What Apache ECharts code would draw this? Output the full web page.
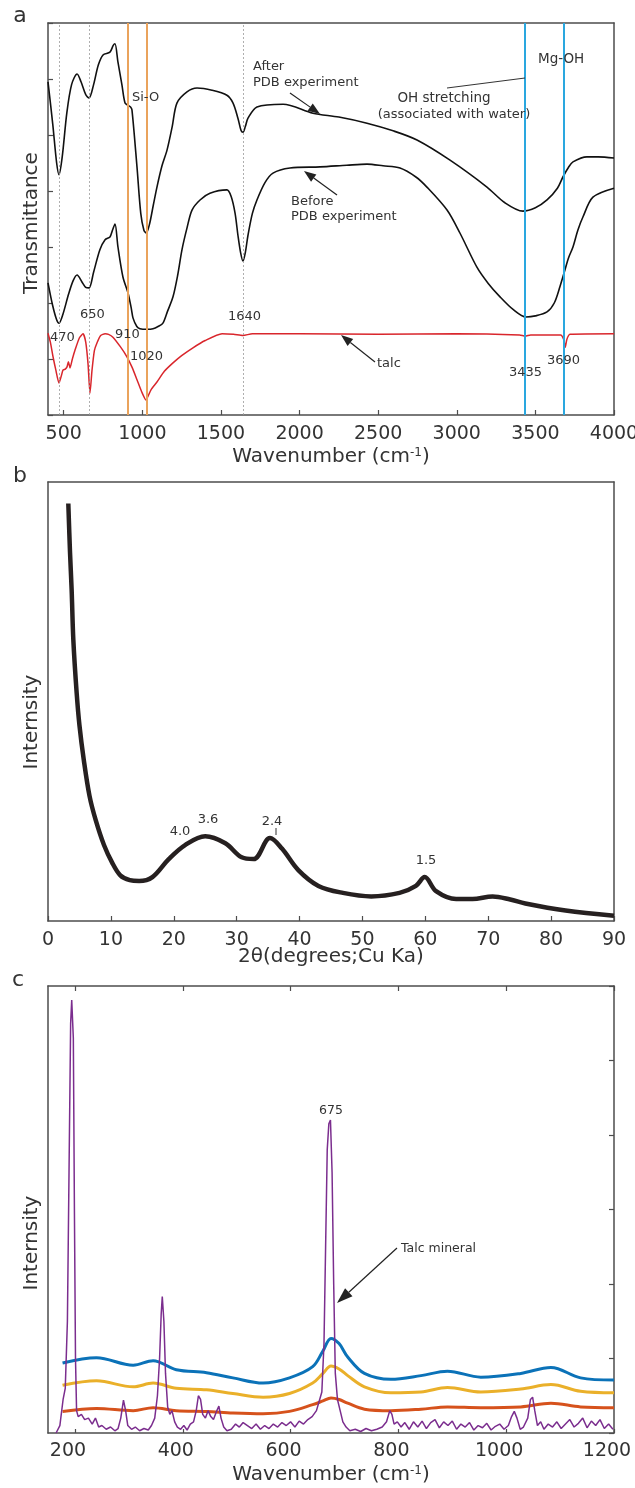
<!DOCTYPE html>
<html><head><meta charset="utf-8">
<script src="https://cdn.jsdelivr.net/npm/echarts@6/dist/echarts.min.js"></script>
<style>html,body{margin:0;padding:0;background:#fff;}#c{width:635px;height:1488px;}</style>
</head><body><div id="c"></div>
<script>
// ---------- Panel a: FTIR ----------
const ftirTicks = [500,1000,1500,2000,2500,3000,3500,4000];
const ftirAfter = [[400,5.95],[430,5.2],[455,4.5],[470,4.29],[490,4.6],[520,5.4],[550,5.9],[585,6.09],[610,5.95],[640,5.72],[661,5.66],[690,5.9],[720,6.25],[750,6.43],[794,6.48],[815,6.6],[826,6.63],[845,6.3],[870,5.9],[890,5.57],[910,5.53],[925,5.5],[934,5.45],[966,4.43],[990,3.6],[1010,3.3],[1025,3.25],[1045,3.4],[1070,3.75],[1093,4.07],[1125,4.45],[1157,4.73],[1190,5.15],[1220,5.57],[1284,5.77],[1348,5.84],[1443,5.80],[1538,5.71],[1577,5.57],[1608,5.30],[1628,5.08],[1640,5.05],[1655,5.15],[1672,5.30],[1729,5.50],[1895,5.55],[2085,5.39],[2250,5.32],[2429,5.21],[2600,5.07],[2747,4.91],[2957,4.55],[3192,4.07],[3306,3.79],[3421,3.64],[3500,3.7],[3574,3.84],[3640,4.05],[3675,4.25],[3710,4.42],[3739,4.52],[3828,4.61],[3900,4.61],[4000,4.59]];
const ftirBefore = [[400,2.36],[430,1.95],[455,1.7],[470,1.64],[495,1.8],[530,2.15],[560,2.4],[585,2.5],[615,2.38],[640,2.28],[661,2.27],[690,2.55],[730,2.95],[763,3.13],[794,3.18],[810,3.3],[826,3.41],[845,3.0],[877,2.46],[909,2.18],[930,1.9],[941,1.73],[965,1.58],[985,1.54],[1030,1.53],[1068,1.54],[1100,1.58],[1131,1.64],[1160,1.85],[1195,2.11],[1225,2.5],[1252,2.95],[1285,3.35],[1316,3.66],[1367,3.84],[1430,3.96],[1538,4.02],[1565,3.9],[1590,3.6],[1608,3.21],[1625,2.9],[1640,2.75],[1655,2.9],[1672,3.21],[1700,3.6],[1729,3.84],[1780,4.15],[1831,4.32],[1939,4.41],[2130,4.43],[2300,4.46],[2429,4.48],[2531,4.45],[2639,4.41],[2740,4.25],[2810,4.07],[2938,3.66],[3020,3.25],[3128,2.64],[3200,2.35],[3275,2.11],[3360,1.88],[3440,1.75],[3500,1.77],[3574,1.84],[3620,2.0],[3656,2.29],[3688,2.59],[3710,2.8],[3739,3.0],[3770,3.3],[3803,3.54],[3866,3.89],[4000,4.05]];
const ftirTalc = [[400,1.46],[415,1.3],[432,1.04],[450,0.8],[470,0.57],[485,0.7],[495,0.8],[510,0.82],[521,0.86],[530,0.95],[540,0.84],[555,1.0],[572,1.16],[600,1.38],[623,1.45],[640,1.3],[655,0.9],[667,0.39],[680,0.8],[695,1.15],[712,1.29],[735,1.42],[763,1.45],[785,1.44],[813,1.39],[860,1.22],[902,1.04],[935,0.85],[966,0.63],[995,0.42],[1023,0.27],[1055,0.45],[1093,0.59],[1140,0.78],[1195,0.93],[1250,1.06],[1322,1.2],[1400,1.33],[1507,1.45],[1580,1.44],[1640,1.42],[1700,1.45],[2000,1.45],[2500,1.44],[3000,1.45],[3400,1.43],[3435,1.41],[3470,1.43],[3660,1.43],[3680,1.35],[3690,1.21],[3700,1.35],[3720,1.44],[4000,1.45]];
const ftirDashed = [470, 660, 1640];
const ftirSiO = [910, 1025];
const ftirMgOH = [3435, 3680];

// ---------- Panel b: XRD ----------
const xrdTicks = [0,10,20,30,40,50,60,70,80,90];
const xrd = [[3.23,95.1],[3.5,84],[3.76,75.4],[4.03,64.0],[4.56,51.9],[5.0,44.6],[5.7,36.6],[6.6,28.5],[7.6,22.9],[8.9,17.3],[10.2,13.3],[11.5,10.4],[13.0,9.3],[14.5,9.1],[16.6,10.0],[19.2,14.1],[21.8,17.3],[25.0,19.3],[28.2,17.7],[30.8,14.5],[32.7,14.1],[35.3,18.9],[37.2,16.5],[39.8,11.6],[43.0,8.0],[46.9,6.4],[51.4,5.6],[55.9,6.4],[58.5,8.0],[59.9,10.0],[61.7,6.8],[64.9,5.0],[67.5,5.0],[70.7,5.6],[73.5,4.9],[75.9,4.0],[82.3,2.4],[90,1.2]];

// ---------- Panel c: Raman ----------
const ramanTicks = [200,400,600,800,1000,1200];
const ramanBlue = [[177,0.94],[240,1.01],[308,0.91],[345,0.97],[388,0.85],[444,0.81],[493,0.74],[549,0.67],[598,0.74],[641,0.89],[660,1.1],[675,1.27],[690,1.2],[706,1.02],[737,0.80],[786,0.72],[842,0.77],[891,0.83],[953,0.75],[1027,0.80],[1083,0.88],[1138,0.74],[1200,0.71]];
const ramanYellow = [[177,0.64],[240,0.70],[308,0.62],[345,0.67],[388,0.60],[444,0.58],[493,0.53],[549,0.48],[598,0.53],[641,0.67],[660,0.8],[675,0.90],[690,0.86],[706,0.77],[737,0.62],[786,0.54],[842,0.55],[891,0.61],[953,0.55],[1027,0.59],[1083,0.65],[1138,0.56],[1200,0.54]];
const ramanOrange = [[177,0.29],[240,0.33],[308,0.30],[345,0.34],[388,0.30],[444,0.29],[493,0.27],[549,0.26],[598,0.29],[641,0.38],[660,0.43],[675,0.47],[690,0.45],[706,0.40],[737,0.32],[786,0.30],[842,0.32],[891,0.35],[953,0.34],[1027,0.35],[1083,0.40],[1138,0.35],[1200,0.34]];
const ramanPurple = [[165,0.0],[172,0.1],[178,0.45],[182,0.6],[186,1.5],[189,3.5],[192,5.5],[194,5.81],[197,5.3],[199,3.0],[201,1.0],[203,0.3],[206,0.22],[212,0.25],[218,0.18],[225,0.2],[232,0.12],[238,0.2],[244,0.08],[250,0.1],[258,0.05],[266,0.08],[274,0.03],[280,0.06],[285,0.2],[290,0.44],[294,0.3],[298,0.1],[305,0.05],[312,0.08],[320,0.03],[328,0.06],[336,0.04],[342,0.1],[348,0.2],[353,0.5],[357,1.0],[360,1.6],[362,1.83],[365,1.5],[368,0.8],[372,0.35],[376,0.25],[380,0.3],[385,0.15],[390,0.08],[396,0.05],[402,0.1],[408,0.04],[414,0.12],[420,0.15],[425,0.3],[429,0.5],[433,0.45],[437,0.25],[442,0.2],[447,0.3],[452,0.22],[457,0.18],[462,0.28],[467,0.36],[471,0.2],[476,0.08],[482,0.03],[490,0.05],[498,0.12],[505,0.08],[512,0.14],[520,0.1],[528,0.06],[536,0.12],[544,0.05],[552,0.1],[560,0.06],[568,0.12],[576,0.08],[584,0.14],[592,0.1],[600,0.15],[608,0.08],[616,0.16],[624,0.12],[632,0.18],[640,0.22],[648,0.3],[654,0.45],[658,0.55],[662,1.2],[665,2.5],[668,3.8],[671,4.15],[674,4.2],[677,3.5],[680,2.0],[683,0.8],[687,0.45],[692,0.3],[697,0.15],[703,0.08],[710,0.03],[720,0.05],[730,0.02],[740,0.06],[750,0.03],[760,0.05],[770,0.08],[778,0.15],[784,0.3],[788,0.25],[792,0.12],[798,0.15],[805,0.08],[812,0.14],[820,0.05],[828,0.15],[836,0.08],[844,0.16],[852,0.06],[860,0.14],[868,0.18],[876,0.07],[884,0.15],[892,0.1],[900,0.16],[908,0.05],[916,0.12],[924,0.08],[932,0.14],[940,0.04],[948,0.1],[956,0.07],[964,0.13],[972,0.04],[980,0.09],[988,0.12],[996,0.05],[1004,0.1],[1010,0.22],[1015,0.29],[1020,0.2],[1026,0.05],[1032,0.08],[1040,0.2],[1045,0.45],[1049,0.48],[1053,0.3],[1058,0.1],[1064,0.15],[1070,0.05],[1078,0.12],[1086,0.08],[1094,0.15],[1102,0.06],[1110,0.12],[1118,0.18],[1126,0.08],[1134,0.13],[1142,0.2],[1150,0.07],[1158,0.16],[1166,0.1],[1174,0.18],[1182,0.06],[1190,0.12],[1198,0.05]];

// ---------- styling ----------
const FONT = '"DejaVu Sans", "Liberation Sans", Arial, sans-serif';
const AX = '#4d4d4d';
const TXT = '#333333';
const axLine = {show:true, onZero:false, lineStyle:{color:AX, width:1.5}};
const noAx = {axisTick:{show:false}, axisLabel:{show:false}, splitLine:{show:false}};
const plain = v => String(v);
const lbl = (extra) => Object.assign({show:true, fontSize:19, color:TXT, fontFamily:FONT, formatter:plain}, extra);

const chart = echarts.init(document.getElementById('c'), null, {renderer:'canvas'});

function mk(vals, color, width, type) {
  return {symbol:['none','none'], silent:true, label:{show:false}, animation:false,
    lineStyle:{color:color, width:width, type:type||'solid'},
    data: vals.map(v => ({xAxis:v}))};
}
function line(gi, data, color, width, smooth, extra) {
  return Object.assign({type:'line', xAxisIndex:gi, yAxisIndex:gi, data:data, symbol:'none',
    smooth:smooth, lineStyle:{color:color, width:width}, itemStyle:{color:color}, z:3}, extra||{});
}
function txt(x, y, s, size, align, extra) {
  return Object.assign({type:'text', x:x, y:y, z:100, style:{text:s, fill:TXT, font: size + 'px ' + FONT,
    textAlign:align||'left', textVerticalAlign:'middle'}}, extra||{});
}
function arrow(x1,y1,x2,y2,hl,hw,color,w){
  const a = Math.atan2(y2-y1, x2-x1);
  const bx = x2 - hl*Math.cos(a), by = y2 - hl*Math.sin(a);
  const px = -Math.sin(a)*hw/2, py = Math.cos(a)*hw/2;
  return [
    {type:'line', z:100, shape:{x1:x1,y1:y1,x2:bx,y2:by}, style:{stroke:color, lineWidth:w}},
    {type:'polygon', z:100, shape:{points:[[x2,y2],[bx+px,by+py],[bx-px,by-py]]}, style:{fill:color}}
  ];
}
function rot(x, y, s) {
  return {type:'text', x:x, y:y, rotation:Math.PI/2, z:100,
    style:{text:s, fill:TXT, font:'20px ' + FONT, textAlign:'center', textVerticalAlign:'middle'}};
}
function wn(x, y) {
  return {type:'text', x:x, y:y, z:100, style:{text:'Wavenumber (cm{s|-1})', fill:TXT, font:'20px ' + FONT,
    textAlign:'center', textVerticalAlign:'middle',
    rich:{s:{fontSize:12, fontFamily:FONT, fill:TXT, verticalAlign:'top', padding:[0,0,9,0]}}}};
}

const G = {outerBoundsMode:'none', containLabel:false};
const option = {
  animation:false,
  backgroundColor:'#ffffff',
  grid:[
    Object.assign({left:48, top:23, width:566, height:392}, G),
    Object.assign({left:48, top:482, width:566, height:439}, G),
    Object.assign({left:48, top:986, width:566, height:447}, G)
  ],
  xAxis:[
    {gridIndex:0, type:'value', min:400, max:4000, position:'bottom', axisLine:axLine,
      axisTick:{show:true, inside:true, length:5, customValues:ftirTicks, lineStyle:{color:AX, width:1.2}},
      axisLabel:lbl({customValues:ftirTicks, margin:10}), splitLine:{show:false}},
    Object.assign({gridIndex:0, type:'value', min:400, max:4000, position:'top', axisLine:axLine}, noAx),
    {gridIndex:1, type:'value', min:0, max:90, interval:10, position:'bottom', axisLine:axLine,
      axisTick:{show:true, inside:true, length:5, lineStyle:{color:AX, width:1.2}},
      axisLabel:lbl({margin:10}), splitLine:{show:false}},
    Object.assign({gridIndex:1, type:'value', min:0, max:90, position:'top', axisLine:axLine}, noAx),
    {gridIndex:2, type:'value', min:150, max:1200, position:'bottom', axisLine:axLine,
      axisTick:{show:true, inside:true, length:4, customValues:ramanTicks, lineStyle:{color:AX, width:1.2}},
      axisLabel:lbl({customValues:ramanTicks, margin:9, padding:[0,14,0,0]}), splitLine:{show:false}},
    {gridIndex:2, type:'value', min:150, max:1200, position:'top', axisLine:axLine,
      axisTick:{show:true, inside:true, length:5, customValues:ramanTicks, lineStyle:{color:AX, width:1.2}},
      axisLabel:{show:false}, splitLine:{show:false}}
  ],
  yAxis:[
    {gridIndex:0, type:'value', min:0, max:7, interval:1, position:'left', axisLine:axLine,
      axisTick:{show:true, inside:true, length:5, lineStyle:{color:AX, width:1.2}},
      axisLabel:{show:false}, splitLine:{show:false}},
    Object.assign({gridIndex:0, type:'value', min:0, max:7, position:'right', axisLine:axLine}, noAx),
    Object.assign({gridIndex:1, type:'value', min:0, max:100, position:'left', axisLine:axLine}, noAx),
    Object.assign({gridIndex:1, type:'value', min:0, max:100, position:'right', axisLine:axLine}, noAx),
    Object.assign({gridIndex:2, type:'value', min:0, max:6, position:'left', axisLine:axLine}, noAx),
    {gridIndex:2, type:'value', min:0, max:6, interval:1, position:'right', axisLine:axLine,
      axisTick:{show:true, inside:true, length:5, lineStyle:{color:AX, width:1.2}},
      axisLabel:{show:false}, splitLine:{show:false}}
  ],
  series:[
    line(0, ftirTalc, '#d9262c', 1.5, 0.2, {markLine: mk(ftirDashed, '#9a9a9a', 0.8, [2,2])}),
    line(0, ftirAfter, '#111111', 1.6, 0.3, {markLine: mk(ftirSiO, '#eaa35c', 2)}),
    line(0, ftirBefore, '#111111', 1.6, 0.3, {markLine: mk(ftirMgOH, '#2aa7df', 2)}),
    line(2, xrd, '#262020', 4.5, 0.35),
    line(4, ramanBlue, '#0b72b8', 3, 0.35),
    line(4, ramanYellow, '#eab02a', 3, 0.35),
    line(4, ramanOrange, '#d6521c', 3, 0.35),
    line(4, ramanPurple, '#7b2d8e', 1.5, false)
  ],
  graphic:[].concat(
    [
      txt(20, 16, 'a', 22, 'center'),
      txt(20, 476, 'b', 22, 'center'),
      txt(18, 980, 'c', 22, 'center'),
      rot(32, 223, 'Transmittance'),
      rot(32, 722, 'Internsity'),
      rot(32, 1243, 'Internsity'),
      wn(331, 457),
      wn(331, 1475),
      txt(331, 957, '2θ(degrees;Cu Ka)', 20, 'center'),
      txt(253, 67, 'After', 13),
      txt(253, 83, 'PDB experiment', 13),
      txt(132, 98, 'Si-O', 13),
      txt(538, 59, 'Mg-OH', 13.5),
      txt(444, 98, 'OH stretching', 13.5, 'center'),
      txt(454, 115, '(associated with water)', 13, 'center'),
      txt(291, 202, 'Before', 13),
      txt(291, 217, 'PDB experiment', 13),
      txt(50, 338, '470', 13),
      txt(80, 315, '650', 13),
      txt(115, 335, '910', 13),
      txt(130, 357, '1020', 13),
      txt(228, 317, '1640', 13),
      txt(509, 373, '3435', 13),
      txt(547, 361, '3690', 13),
      txt(377, 364, 'talc', 13),
      txt(180, 832, '4.0', 13, 'center'),
      txt(208, 820, '3.6', 13, 'center'),
      txt(272, 822, '2.4', 13, 'center'),
      txt(426, 861, '1.5', 13, 'center'),
      txt(331, 1111, '675', 12.5, 'center'),
      txt(401, 1249, 'Talc mineral', 12.5),
      {type:'line', z:100, shape:{x1:447,y1:88,x2:525,y2:78}, style:{stroke:'#333', lineWidth:1}},
      {type:'line', z:100, shape:{x1:276,y1:828,x2:276,y2:835}, style:{stroke:'#333', lineWidth:1}}
    ],
    arrow(290,93,320,114,12,9,'#222',1.2),
    arrow(337,195,304,171,12,9,'#222',1.2),
    arrow(375,362,341,335,12,9,'#222',1.2),
    arrow(397,1248,337,1303,16,11,'#222',1.2)
  )
};
chart.setOption(option);
</script>
</body></html>
